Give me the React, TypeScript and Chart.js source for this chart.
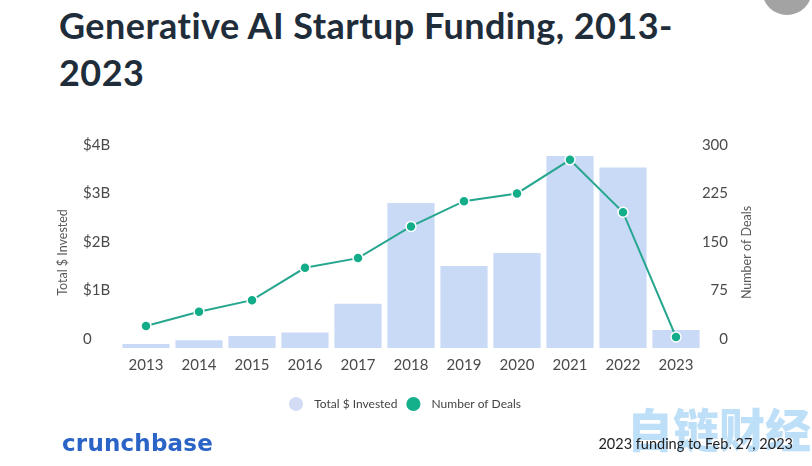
import React, { useEffect, useRef } from 'react';
import { Chart, registerables } from 'chart.js';

Chart.register(...registerables);

const YEARS = ['2013', '2014', '2015', '2016', '2017', '2018', '2019', '2020', '2021', '2022', '2023'];
const INVESTED_B = [0.08, 0.16, 0.25, 0.32, 0.91, 2.99, 1.69, 1.96, 3.96, 3.72, 0.37];
const DEALS = [34, 56, 74, 124, 139, 188, 227, 239, 291, 210, 17];
const LEFT_TICK_LABELS = ['0', '$1B', '$2B', '$3B', '$4B'];
const RIGHT_TICK_LABELS = ['0', '75', '150', '225', '300'];
const SERIES_NAMES = ['Total $ Invested', 'Number of Deals'];
const AXIS_TITLES = ['Total $ Invested', 'Number of Deals'];

const BAR_COLOR = '#c9daf6';
const LINE_COLOR = '#26a68f';
const POINT_COLOR = '#13ad8a';
const LEGEND_COLORS = ['#d2ddf5', '#14b08c'];
const TICK_COLOR = '#4a4a4a';
const FONT = 'Lato';

const axisTitlePlugin = {
  id: 'axisTitles',
  afterDraw(chart: any) {
    const { ctx, chartArea } = chart;
    const cy = (chartArea.top + chartArea.bottom) / 2 + 1.5;
    const xs = [chartArea.left - 56.5, chartArea.right + 44.5];
    xs.forEach((x, i) => {
      ctx.save();
      ctx.font = `12.5px ${FONT}`;
      ctx.fillStyle = '#5a5a5a';
      ctx.textAlign = 'center';
      ctx.textBaseline = 'middle';
      ctx.translate(x, cy);
      ctx.rotate(-Math.PI / 2);
      ctx.fillText(AXIS_TITLES[i], 0, 0);
      ctx.restore();
    });
  },
};

function ChartBox() {
  const ref = useRef<HTMLCanvasElement>(null);
  useEffect(() => {
    if (!ref.current) return;
    const chart = new Chart(ref.current, {
      type: 'bar',
      data: {
        labels: YEARS,
        datasets: [
          {
            type: 'bar',
            label: SERIES_NAMES[0],
            data: INVESTED_B,
            backgroundColor: BAR_COLOR,
            borderWidth: 0,
            barPercentage: 0.89,
            categoryPercentage: 1,
            yAxisID: 'yL',
            order: 2,
          } as any,
          {
            type: 'line',
            label: SERIES_NAMES[1],
            data: DEALS,
            borderColor: LINE_COLOR,
            backgroundColor: POINT_COLOR,
            borderWidth: 2,
            tension: 0,
            pointRadius: 5,
            pointBorderWidth: 1.5,
            pointBorderColor: '#ffffff',
            pointBackgroundColor: POINT_COLOR,
            yAxisID: 'yR',
            order: 1,
          } as any,
        ],
      },
      options: {
        responsive: false,
        animation: false,
        devicePixelRatio: 1,
        layout: { padding: { left: 83, right: 84, top: 24, bottom: 40 } },
        plugins: {
          tooltip: { enabled: false },
          title: { display: false },
          legend: {
            display: true,
            position: 'bottom',
            labels: {
              usePointStyle: true,
              pointStyle: 'circle',
              boxWidth: 12,
              boxHeight: 10,
              padding: 10,
              color: '#444',
              font: { family: FONT, size: 12 },
              sort: (a: any, b: any) => a.datasetIndex - b.datasetIndex,
              generateLabels: (c: any) => {
                const items = (Chart as any).defaults.plugins.legend.labels.generateLabels(c);
                return items.map((it: any) => ({
                  ...it,
                  text: '  ' + it.text,
                  fillStyle: LEGEND_COLORS[it.datasetIndex],
                  strokeStyle: LEGEND_COLORS[it.datasetIndex],
                  lineWidth: 0,
                  pointStyle: 'circle',
                }));
              },
            },
          },
        },
        scales: {
          x: {
            grid: { display: false, drawTicks: false },
            border: { display: false },
            ticks: { color: TICK_COLOR, font: { family: FONT, size: 15 }, padding: 8 },
            afterFit: (s: any) => { s.height = 40; },
          },
          yL: {
            type: 'linear',
            position: 'left',
            min: 0,
            max: 4,
            grid: { display: false, drawTicks: false },
            border: { display: false },
            ticks: {
              stepSize: 1,
              crossAlign: 'far',
              labelOffset: -9,
              color: TICK_COLOR,
              font: { family: FONT, size: 15 },
              callback: (_v: any, i: number) => LEFT_TICK_LABELS[i],
            },
            afterFit: (s: any) => { s.width = 36.5; },
          },
          yR: {
            type: 'linear',
            position: 'right',
            min: 0,
            max: 300,
            grid: { display: false, drawTicks: false },
            border: { display: false },
            ticks: {
              stepSize: 75,
              crossAlign: 'far',
              labelOffset: -9,
              color: TICK_COLOR,
              font: { family: FONT, size: 15 },
              callback: (_v: any, i: number) => RIGHT_TICK_LABELS[i],
            },
            afterFit: (s: any) => { s.width = 25.5; },
          },
        },
      } as any,
      plugins: [axisTitlePlugin],
    });
    return () => chart.destroy();
  }, []);
  return (
    <canvas
      ref={ref}
      width={812}
      height={330}
      style={{ position: 'absolute', left: 0, top: 130, width: 812, height: 330 }}
    />
  );
}

export default function App() {
  return (
    <div
      style={{
        position: 'absolute',
        left: 0,
        top: 0,
        width: 812,
        height: 466,
        background: '#ffffff',
        overflow: 'hidden',
      }}
    >
      <div
        style={{
          position: 'absolute',
          left: 762,
          top: -35,
          width: 50,
          height: 50,
          borderRadius: '50%',
          background: '#a3a3a3',
        }}
      />
      <div
        style={{
          position: 'absolute',
          left: 59,
          top: 2,
          fontFamily: FONT,
          fontWeight: 700,
          fontSize: 36,
          letterSpacing: '0.45px',
          lineHeight: '47px',
          color: '#1f2d3a',
          whiteSpace: 'nowrap',
        }}
      >
        Generative AI Startup Funding, 2013-
        <br />
        2023
      </div>
      <ChartBox />
      <div
        style={{
          position: 'absolute',
          left: 627,
          top: 401,
          fontFamily: '"Noto Sans CJK SC"',
          fontWeight: 900,
          fontSize: 46,
          lineHeight: '52px',
          color: 'rgba(110,185,240,0.45)',
          whiteSpace: 'nowrap',
        }}
      >
        自链财经
      </div>
      <div
        style={{
          position: 'absolute',
          left: 62,
          top: 429,
          fontFamily: '"DejaVu Sans"',
          fontWeight: 700,
          fontSize: 23,
          letterSpacing: '0.2px',
          lineHeight: '28px',
          color: '#2a64c6',
          whiteSpace: 'nowrap',
        }}
      >
        crunchbase
      </div>
      <div
        style={{
          position: 'absolute',
          right: 19,
          top: 435,
          fontFamily: FONT,
          fontSize: 14.5,
          lineHeight: '18px',
          color: '#222',
          whiteSpace: 'nowrap',
        }}
      >
        2023 funding to Feb. 27, 2023
      </div>
    </div>
  );
}
